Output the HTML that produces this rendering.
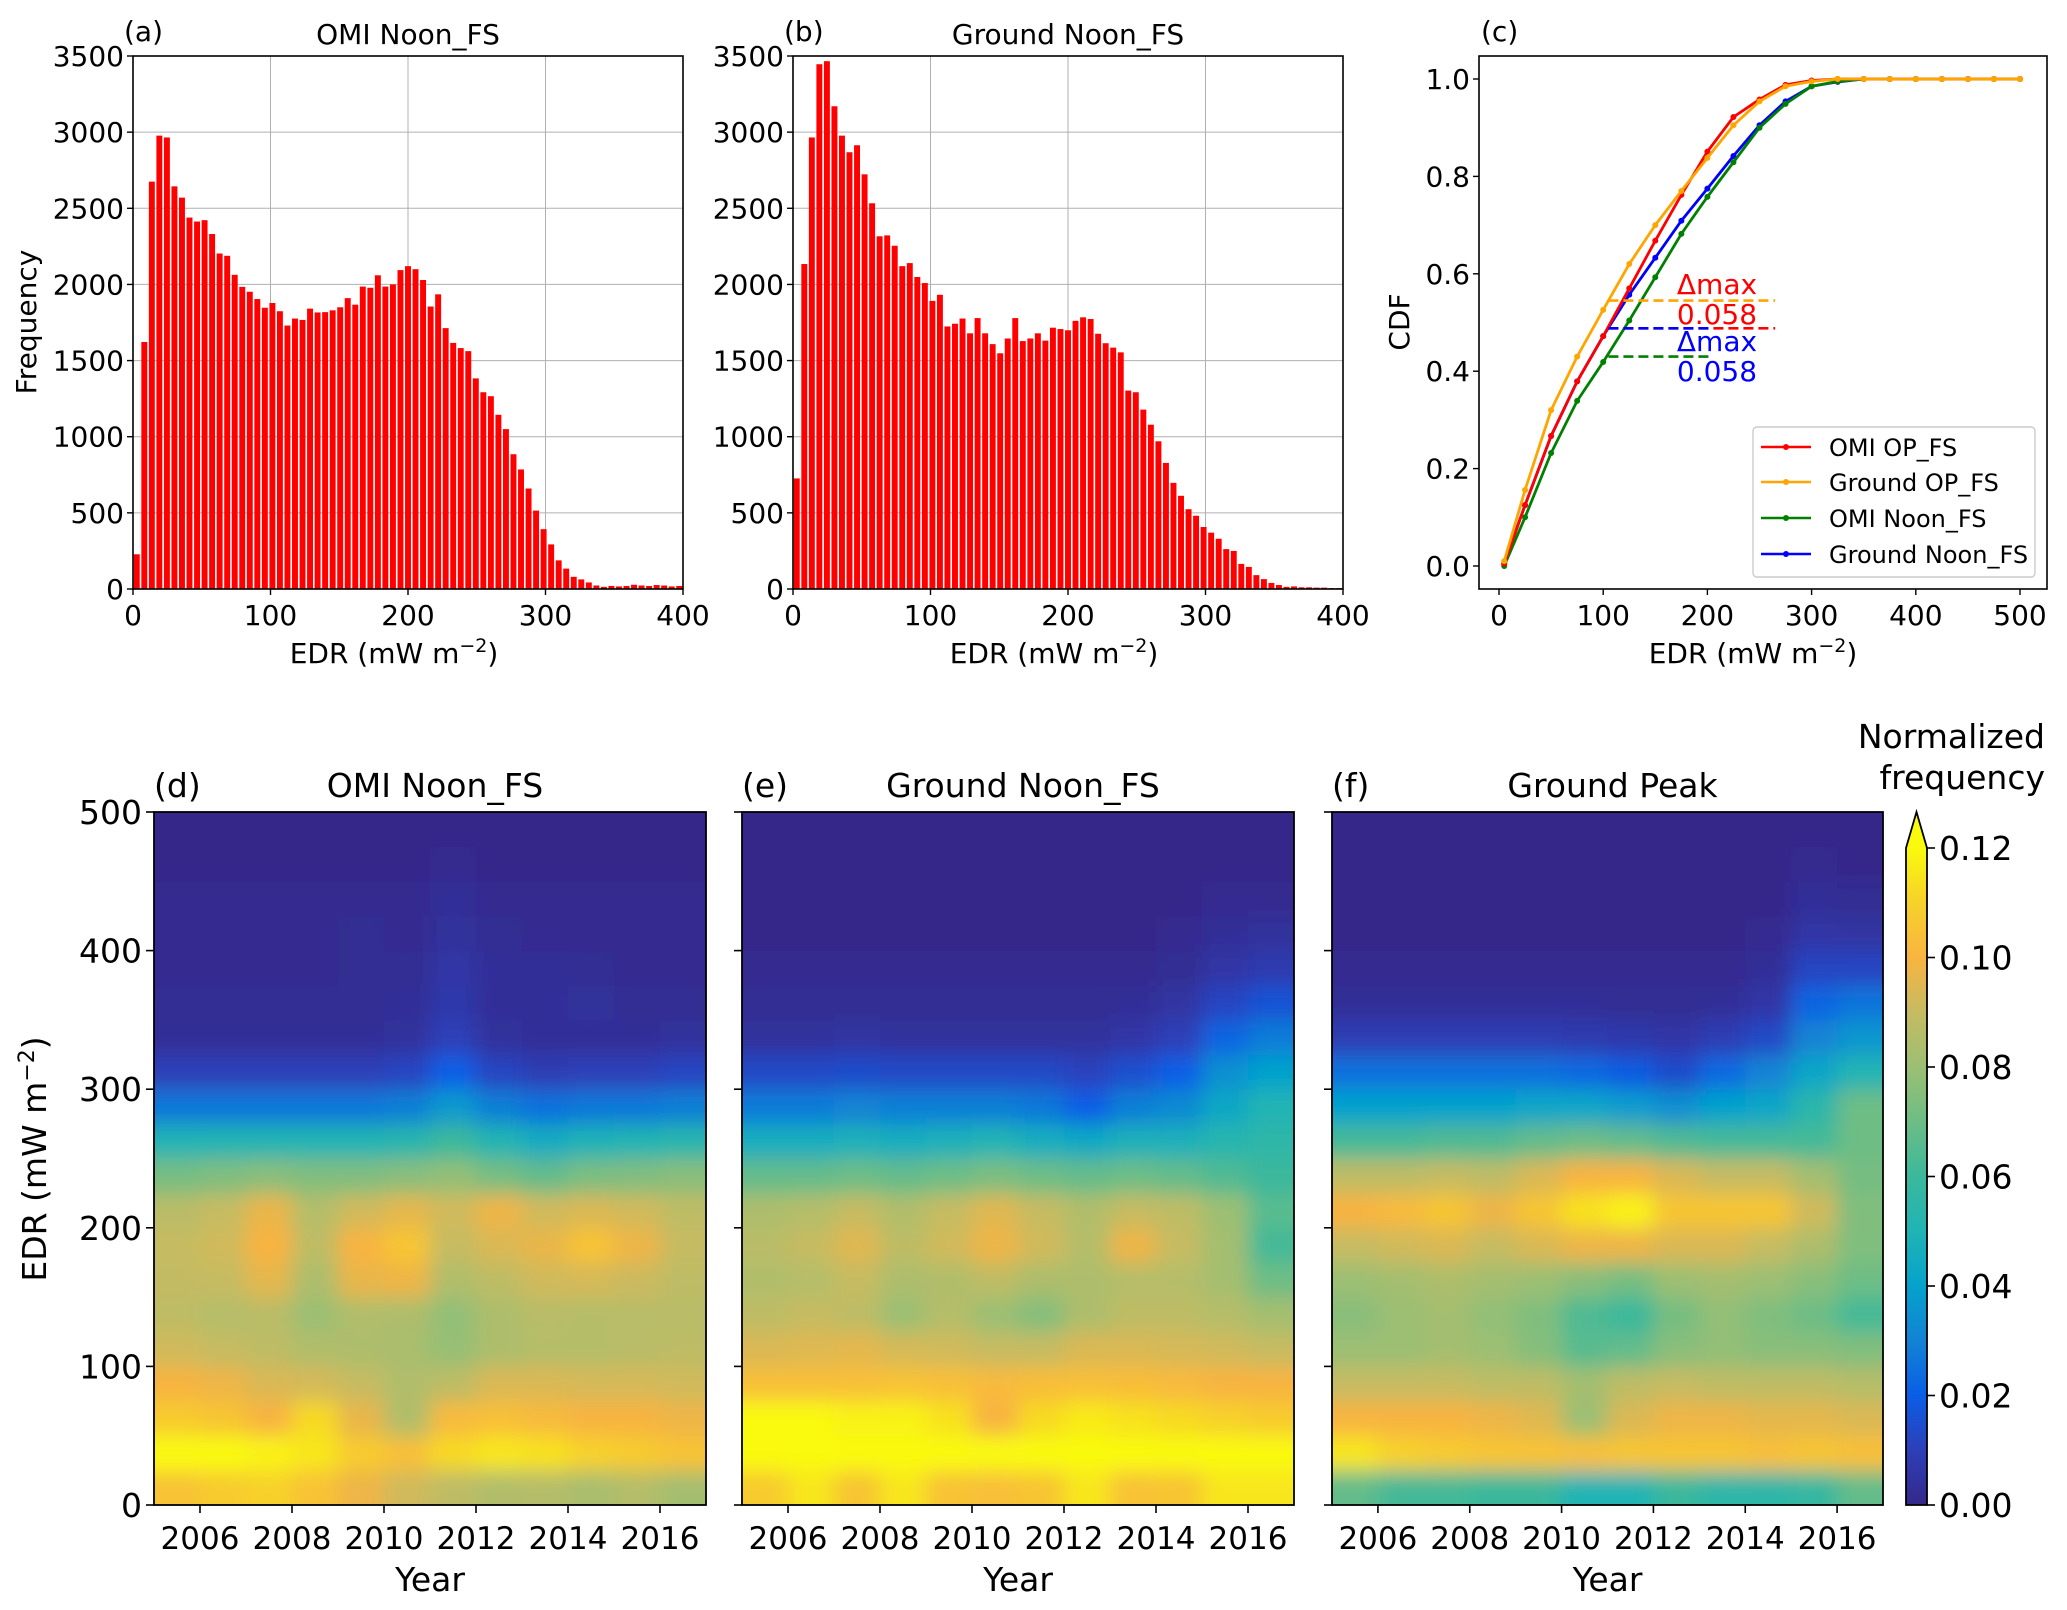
<!DOCTYPE html>
<html><head><meta charset="utf-8">
<style>
html,body{margin:0;padding:0;background:#fff;}
svg{display:block;font-family:"DejaVu Sans","Liberation Sans",sans-serif;}
</style></head>
<body>
<svg id="fig" width="2067" height="1610" viewBox="0 0 2067 1610" xmlns="http://www.w3.org/2000/svg">
<defs>
<filter id="blur" x="-20%" y="-20%" width="140%" height="140%"><feGaussianBlur stdDeviation="10"/></filter>
<clipPath id="clipD"><rect x="154" y="812" width="552" height="693"/></clipPath>
<clipPath id="clipE"><rect x="742" y="812" width="552" height="693"/></clipPath>
<clipPath id="clipF"><rect x="1332" y="812" width="551" height="693"/></clipPath>
<linearGradient id="cbgrad" x1="0" y1="1" x2="0" y2="0">
<stop offset="0" stop-color="#35288a"/><stop offset="0.083" stop-color="#2d3fb8"/>
<stop offset="0.167" stop-color="#0a5ee6"/><stop offset="0.25" stop-color="#1283d4"/>
<stop offset="0.333" stop-color="#05a2cc"/><stop offset="0.417" stop-color="#20b4b4"/>
<stop offset="0.5" stop-color="#3bb89c"/><stop offset="0.583" stop-color="#6dbd85"/>
<stop offset="0.667" stop-color="#9cbf73"/><stop offset="0.75" stop-color="#c6bb62"/>
<stop offset="0.833" stop-color="#f8b440"/><stop offset="0.917" stop-color="#f7d12a"/>
<stop offset="1" stop-color="#f9fa0d"/></linearGradient>
</defs>
</svg>
<script>
// ---------- histogram data ----------
const histA = [228,1622,2675,2977,2965,2644,2570,2439,2413,2422,2331,2203,2188,2063,1984,1952,1904,1847,1878,1824,1730,1776,1767,1841,1816,1818,1830,1850,1910,1867,1986,1978,2060,1986,2000,2094,2120,2100,2029,1855,1935,1713,1616,1582,1562,1383,1292,1266,1144,1050,885,785,660,515,393,293,188,134,80,63,43,23,14,20,17,20,28,23,20,26,23,17,20];
const histB = [726,2134,2965,3446,3466,3170,2977,2868,2914,2723,2533,2316,2322,2254,2120,2140,2049,2009,1892,1932,1724,1742,1776,1679,1779,1679,1608,1548,1645,1779,1628,1645,1679,1631,1716,1707,1699,1761,1784,1773,1676,1614,1585,1554,1303,1292,1178,1079,970,828,697,612,524,481,407,370,330,262,250,165,145,91,65,40,26,14,17,11,11,9,9,6,6];
const histYTicks = [0,500,1000,1500,2000,2500,3000,3500];
const histXTicks = [0,100,200,300,400];
// ---------- CDF data ----------
const cdfX = [5,25,50,75,100,125,150,175,200,225,250,275,300,325,350,375,400,425,450,475,500];
const cdfOmiOP = [0.005,0.125,0.267,0.379,0.472,0.57,0.668,0.762,0.851,0.922,0.958,0.988,0.997,1,1,1,1,1,1,1,1];
const cdfGroundOP = [0.01,0.156,0.32,0.43,0.526,0.62,0.70,0.77,0.838,0.905,0.954,0.985,0.995,1,1,1,1,1,1,1,1];
const cdfOmiNoon = [0.0,0.10,0.232,0.339,0.419,0.504,0.593,0.682,0.758,0.829,0.90,0.949,0.985,0.995,1,1,1,1,1,1,1];
const cdfGroundNoon = [0.005,0.125,0.267,0.379,0.472,0.557,0.633,0.709,0.775,0.842,0.905,0.954,0.985,0.994,1,1,1,1,1,1,1];
const cdfTicksX = [0,100,200,300,400,500];
const cdfTicksY = [0,0.2,0.4,0.6,0.8,1.0];
// ---------- heatmap data: rows = EDR bins of 25 (0-25 first), cols = years 2005..2016 ----------
const years = [2005,2006,2007,2008,2009,2010,2011,2012,2013,2014,2015,2016];
const yearTicks = [2006,2008,2010,2012,2014,2016];
const edrTicks = [0,100,200,300,400,500];
const cbTicks = [0.00,0.02,0.04,0.06,0.08,0.10,0.12];
const heatD = [
[0.105,0.108,0.11,0.105,0.098,0.092,0.088,0.085,0.086,0.083,0.086,0.082],
[0.122,0.122,0.118,0.115,0.108,0.104,0.112,0.115,0.114,0.11,0.108,0.105],
[0.108,0.106,0.10,0.112,0.097,0.085,0.102,0.104,0.102,0.10,0.10,0.098],
[0.10,0.098,0.094,0.093,0.09,0.085,0.088,0.094,0.094,0.093,0.093,0.092],
[0.092,0.09,0.088,0.085,0.084,0.083,0.079,0.084,0.086,0.086,0.087,0.088],
[0.088,0.086,0.087,0.08,0.085,0.084,0.078,0.084,0.087,0.086,0.087,0.087],
[0.089,0.09,0.096,0.084,0.097,0.098,0.085,0.088,0.092,0.093,0.091,0.088],
[0.09,0.092,0.10,0.088,0.10,0.106,0.09,0.094,0.097,0.105,0.098,0.09],
[0.087,0.09,0.097,0.086,0.092,0.096,0.092,0.098,0.092,0.094,0.092,0.088],
[0.072,0.074,0.076,0.074,0.074,0.076,0.078,0.072,0.068,0.073,0.074,0.076],
[0.05,0.051,0.051,0.051,0.051,0.053,0.06,0.051,0.045,0.049,0.051,0.053],
[0.027,0.027,0.027,0.027,0.027,0.029,0.037,0.029,0.025,0.027,0.027,0.029],
[0.01,0.01,0.01,0.01,0.01,0.012,0.02,0.012,0.009,0.01,0.01,0.012],
[0.003,0.003,0.003,0.003,0.003,0.004,0.01,0.004,0.003,0.003,0.003,0.004],
[0.002,0.002,0.002,0.002,0.002,0.003,0.007,0.003,0.003,0.004,0.002,0.002],
[0.001,0.001,0.001,0.001,0.002,0.002,0.006,0.003,0.003,0.002,0.001,0.001],
[0.001,0.001,0.001,0.001,0.002,0.001,0.004,0.002,0.001,0.001,0.001,0.001],
[0.001,0.001,0.001,0.001,0.001,0.001,0.003,0.001,0.001,0.001,0.001,0.001],
[0,0,0,0,0,0,0.001,0,0,0,0,0],
[0,0,0,0,0,0,0,0,0,0,0,0]];
const heatE = [
[0.108,0.115,0.106,0.115,0.105,0.104,0.106,0.115,0.105,0.106,0.115,0.115],
[0.126,0.126,0.126,0.126,0.124,0.122,0.124,0.126,0.126,0.125,0.124,0.124],
[0.12,0.12,0.118,0.118,0.114,0.10,0.112,0.116,0.114,0.112,0.11,0.108],
[0.104,0.104,0.104,0.105,0.104,0.102,0.103,0.104,0.103,0.102,0.10,0.10],
[0.094,0.095,0.096,0.093,0.092,0.09,0.09,0.094,0.094,0.093,0.092,0.09],
[0.088,0.09,0.088,0.08,0.086,0.08,0.075,0.084,0.088,0.088,0.086,0.082],
[0.085,0.086,0.09,0.084,0.085,0.088,0.084,0.084,0.086,0.086,0.082,0.07],
[0.087,0.09,0.095,0.088,0.092,0.098,0.092,0.086,0.098,0.09,0.082,0.062],
[0.084,0.086,0.09,0.085,0.09,0.095,0.09,0.085,0.09,0.088,0.08,0.066],
[0.068,0.068,0.07,0.068,0.07,0.073,0.07,0.068,0.07,0.068,0.064,0.06],
[0.046,0.046,0.048,0.046,0.048,0.05,0.046,0.044,0.048,0.048,0.052,0.055],
[0.028,0.028,0.03,0.029,0.029,0.029,0.027,0.02,0.029,0.032,0.043,0.05],
[0.013,0.013,0.014,0.013,0.013,0.013,0.013,0.011,0.015,0.02,0.034,0.04],
[0.004,0.004,0.005,0.004,0.004,0.004,0.004,0.004,0.006,0.01,0.022,0.028],
[0.002,0.002,0.002,0.002,0.002,0.002,0.002,0.002,0.003,0.005,0.012,0.016],
[0.001,0.001,0.001,0.001,0.001,0.001,0.001,0.001,0.001,0.002,0.006,0.008],
[0,0,0,0,0,0,0,0,0,0.001,0.003,0.004],
[0,0,0,0,0,0,0,0,0,0,0.001,0.001],
[0,0,0,0,0,0,0,0,0,0,0,0],
[0,0,0,0,0,0,0,0,0,0,0,0]];
const heatF = [
[0.068,0.062,0.062,0.06,0.06,0.05,0.05,0.06,0.055,0.055,0.058,0.068],
[0.115,0.11,0.108,0.106,0.105,0.104,0.106,0.106,0.106,0.104,0.106,0.104],
[0.10,0.10,0.10,0.098,0.095,0.08,0.094,0.098,0.098,0.096,0.096,0.094],
[0.09,0.09,0.09,0.088,0.088,0.082,0.088,0.09,0.088,0.088,0.088,0.086],
[0.08,0.08,0.082,0.08,0.075,0.066,0.068,0.076,0.078,0.076,0.076,0.074],
[0.076,0.08,0.082,0.078,0.074,0.064,0.06,0.072,0.078,0.074,0.07,0.062],
[0.08,0.082,0.084,0.082,0.08,0.076,0.072,0.08,0.082,0.08,0.076,0.07],
[0.09,0.092,0.094,0.09,0.094,0.098,0.098,0.094,0.094,0.09,0.084,0.074],
[0.1,0.102,0.106,0.098,0.106,0.114,0.118,0.106,0.106,0.106,0.092,0.074],
[0.088,0.088,0.09,0.088,0.094,0.1,0.1,0.094,0.09,0.09,0.082,0.072],
[0.062,0.062,0.064,0.064,0.068,0.07,0.068,0.064,0.062,0.062,0.062,0.07],
[0.04,0.04,0.04,0.04,0.042,0.042,0.038,0.034,0.04,0.042,0.054,0.07],
[0.025,0.025,0.025,0.025,0.025,0.023,0.019,0.014,0.023,0.03,0.042,0.05],
[0.009,0.009,0.009,0.009,0.009,0.008,0.007,0.006,0.009,0.013,0.03,0.036],
[0.003,0.003,0.003,0.003,0.003,0.003,0.002,0.002,0.003,0.006,0.022,0.026],
[0.001,0.001,0.001,0.001,0.001,0.001,0.001,0.001,0.001,0.003,0.012,0.012],
[0,0,0,0,0,0,0,0,0,0.001,0.006,0.005],
[0,0,0,0,0,0,0,0,0,0,0.003,0.002],
[0,0,0,0,0,0,0,0,0,0,0.001,0],
[0,0,0,0,0,0,0,0,0,0,0,0]];

const NS = "http://www.w3.org/2000/svg";
const svg = document.getElementById('fig');
const FS = 28;
function mk(tag, attrs, parent){
  const e = document.createElementNS(NS, tag);
  for (const k in attrs) e.setAttribute(k, attrs[k]);
  (parent||svg).appendChild(e);
  return e;
}
function txt(s, x, y, size, anchor, parent, fill){
  const t = mk('text', {x:x, y:y, 'font-size':size, 'text-anchor':anchor||'middle', fill:fill||'#000'}, parent);
  t.textContent = s;
  return t;
}

// ---------- histograms ----------
function histogram(data, L, R, T, B, label, title, name){
  const g = mk('g', {});
  
  
  const xs = v => L + (v/400)*(R-L);
  const ys = v => B - (v/3500)*(B-T);
  histXTicks.slice(1,-1).forEach(v => mk('line',{x1:xs(v),x2:xs(v),y1:T,y2:B,stroke:'#b0b0b0','stroke-width':1},g));
  histYTicks.slice(1,-1).forEach(v => mk('line',{x1:L,x2:R,y1:ys(v),y2:ys(v),stroke:'#b0b0b0','stroke-width':1},g));
  const bw = 400/data.length;
  data.forEach((v,i) => {
    const r = mk('rect',{x:xs(i*bw)+0.8, y:ys(v), width:(xs(bw)-xs(0))-1.6, height:B-ys(v), fill:'#ff0000'}, g);
    
    
  });
  mk('rect',{x:L,y:T,width:R-L,height:B-T,fill:'none',stroke:'#000','stroke-width':1.6},g);
  histXTicks.forEach(v => { mk('line',{x1:xs(v),x2:xs(v),y1:B,y2:B+6,stroke:'#000','stroke-width':1.4},g); txt(String(v), xs(v), B+36, FS, 'middle', g); });
  histYTicks.forEach(v => { mk('line',{x1:L-6,x2:L,y1:ys(v),y2:ys(v),stroke:'#000','stroke-width':1.4},g); txt(String(v), L-9, ys(v)+10, FS, 'end', g); });
  const xl = txt('', (L+R)/2 - 14, B+74, FS, 'middle', g);
  xl.innerHTML = 'EDR (mW m<tspan dy="-11" font-size="19">−2</tspan><tspan dy="11">)</tspan>';
  txt(label, L-9, 41, FS, 'start', g);
  txt(title, (L+R)/2, 44, FS, 'middle', g);
}
histogram(histA, 133, 683, 56, 589, '(a)', 'OMI Noon_FS', 'histogram-omi-noon');
histogram(histB, 793, 1343, 56, 589, '(b)', 'Ground Noon_FS', 'histogram-ground-noon');
(function(){ const t = txt('Frequency', 0, 0, FS, 'middle'); t.setAttribute('transform','translate(36,322) rotate(-90)');   })();

// ---------- CDF ----------
(function(){
  const L=1479,R=2047,T=56,B=589;
  const xs = v => 1499 + v*(2020-1499)/500;
  const ys = v => 566 - v*(566-79);
  const g = mk('g',{});
  
  
  const series = [[cdfGroundNoon,'#0000ff','ground-noon'],[cdfOmiNoon,'#008000','omi-noon'],[cdfOmiOP,'#ff0000','omi-op'],[cdfGroundOP,'#ffa500','ground-op']];
  series.forEach(([d,c,n]) => {
    const pts = d.map((v,i)=>xs(cdfX[i])+','+ys(v)).join(' ');
    const pl = mk('polyline',{points:pts,fill:'none',stroke:c,'stroke-width':2.8},g);
    
    
    d.forEach((v,i)=>mk('circle',{cx:xs(cdfX[i]),cy:ys(v),r:3,fill:c},g));
  });
  const dash = [[0.545,105,265,'#ffa500'],[0.488,105,265,'#ff0000'],[0.488,105,205,'#0000ff'],[0.43,105,205,'#008000']];
  dash.forEach(([y,a,b,c]) => { const l = mk('line',{x1:xs(a),x2:xs(b),y1:ys(y),y2:ys(y),stroke:c,'stroke-width':2.6,'stroke-dasharray':'10,5'},g);   });
  txt('Δmax', 1717, 294, 28, 'middle', g, '#ff0000');
  txt('0.058', 1717, 324, 28, 'middle', g, '#ff0000');
  txt('Δmax', 1717, 351, 28, 'middle', g, '#0000ff');
  txt('0.058', 1717, 381, 28, 'middle', g, '#0000ff');
  mk('rect',{x:L,y:T,width:R-L,height:B-T,fill:'none',stroke:'#000','stroke-width':1.6},g);
  cdfTicksX.forEach(v => { mk('line',{x1:xs(v),x2:xs(v),y1:B,y2:B+6,stroke:'#000','stroke-width':1.4},g); txt(String(v), xs(v), B+36, FS, 'middle', g); });
  cdfTicksY.forEach(v => { mk('line',{x1:L-6,x2:L,y1:ys(v),y2:ys(v),stroke:'#000','stroke-width':1.4},g); txt(v.toFixed(1), L-9, ys(v)+10, FS, 'end', g); });
  const xl = txt('', (L+R)/2 - 10, B+74, FS, 'middle', g);
  xl.innerHTML = 'EDR (mW m<tspan dy="-11" font-size="19">−2</tspan><tspan dy="11">)</tspan>';
  const yl = txt('CDF', 0, 0, FS, 'middle', g); yl.setAttribute('transform','translate(1409,322) rotate(-90)');
  txt('(c)', 1481, 41, FS, 'start', g);
  const lg = mk('g',{},g);
  
  
  mk('rect',{x:1753,y:427,width:282,height:150,rx:4,fill:'#fff',stroke:'#ccc','stroke-width':1.4},lg);
  const ent = [['OMI OP_FS','#ff0000',447],['Ground OP_FS','#ffa500',482],['OMI Noon_FS','#008000',518],['Ground Noon_FS','#0000ff',554]];
  ent.forEach(([s,c,y]) => {
    const e = mk('g',{},lg);
    
    
    mk('line',{x1:1761,x2:1811,y1:y,y2:y,stroke:c,'stroke-width':2.6},e);
    mk('circle',{cx:1786,cy:y,r:3,fill:c},e);
    txt(s, 1829, y+9, 24, 'start', e);
  });
})();

// ---------- colormap ----------
const cmapStops = ['#35288a','#2d3fb8','#0a5ee6','#1283d4','#05a2cc','#20b4b4','#3bb89c','#6dbd85','#9cbf73','#c6bb62','#f8b440','#f7d12a','#f9fa0d'];
function hex(h){return [parseInt(h.substr(1,2),16),parseInt(h.substr(3,2),16),parseInt(h.substr(5,2),16)];}
function cmap(v){
  let t = Math.max(0, Math.min(1, v/0.12)) * (cmapStops.length-1);
  const i = Math.min(cmapStops.length-2, Math.floor(t)); const f = t - i;
  const a = hex(cmapStops[i]), b = hex(cmapStops[i+1]);
  return 'rgb('+a.map((x,k)=>Math.round(x+(b[k]-x)*f)).join(',')+')';
}

// ---------- heatmaps ----------
function heatmap(data, L, R, label, title, clip, name){
  const T=812, B=1505;
  const xs = yr => L + (yr-2005)/12*(R-L);
  const ys = e => B - e/500*(B-T);
  const g = mk('g',{});
  
  
  const cg = mk('g',{'clip-path':'url(#'+clip+')'},g);
  const bg = mk('g',{filter:'url(#blur)'},cg);
  const nR = data.length, nC = years.length;
  data.forEach((row,r) => row.forEach((v,c) => {
    let x0 = xs(years[c]), x1 = xs(years[c]+1), y0 = ys((r+1)*25), y1 = ys(r*25);
    if (c===0) x0 -= 60; if (c===nC-1) x1 += 60;
    if (r===0) y1 += 60; if (r===nR-1) y0 -= 60;
    const cell = mk('rect',{x:x0,y:y0,width:x1-x0+0.5,height:y1-y0+0.5,fill:cmap(v)},bg);
    
    
  }));
  mk('rect',{x:L,y:T,width:R-L,height:B-T,fill:'none',stroke:'#000','stroke-width':1.8},g);
  yearTicks.forEach(y => { mk('line',{x1:xs(y),x2:xs(y),y1:B,y2:B+8,stroke:'#000','stroke-width':1.6},g); txt(String(y), xs(y), B+44, 31, 'middle', g); });
  edrTicks.forEach(e => { mk('line',{x1:L-8,x2:L,y1:ys(e),y2:ys(e),stroke:'#000','stroke-width':1.6},g); if (label==='(d)') txt(String(e), L-12, ys(e)+12, 33, 'end', g); });
  txt('Year', (L+R)/2, B+86, 33, 'middle', g);
  txt(label, L, 797, 33, 'start', g);
  txt(title, (L+R)/2 + 5, 797, 33, 'middle', g);
}
heatmap(heatD, 154, 706, '(d)', 'OMI Noon_FS', 'clipD', 'heatmap-omi-noon');
heatmap(heatE, 742, 1294, '(e)', 'Ground Noon_FS', 'clipE', 'heatmap-ground-noon');
heatmap(heatF, 1332, 1883, '(f)', 'Ground Peak', 'clipF', 'heatmap-ground-peak');
(function(){ const t = txt('', 0, 0, 33, 'middle'); t.innerHTML = 'EDR (mW m<tspan dy="-12" font-size="22">−2</tspan><tspan dy="12">)</tspan>'; t.setAttribute('transform','translate(46,1159) rotate(-90)');   })();

// ---------- colorbar ----------
(function(){
  const g = mk('g',{});
  
  
  const L=1906,R=1927,T=848,B=1505;
  mk('rect',{x:L,y:T,width:R-L,height:B-T,fill:'url(#cbgrad)'},g);
  mk('path',{d:'M'+L+','+T+' L'+((L+R)/2)+',812 L'+R+','+T+' Z',fill:'#f9fa0d'},g);
  mk('path',{d:'M'+L+','+B+' L'+L+','+T+' L'+((L+R)/2)+',812 L'+R+','+T+' L'+R+','+B+' Z',fill:'none',stroke:'#000','stroke-width':1.8},g);
  const ys = v => B - v/0.12*(B-T);
  cbTicks.forEach(v => { mk('line',{x1:R,x2:R+8,y1:ys(v),y2:ys(v),stroke:'#000','stroke-width':1.6},g); txt(v.toFixed(2), R+12, ys(v)+12, 33, 'start', g); });
  txt('Normalized', 2045, 748, 33, 'end', g);
  txt('frequency', 2045, 789, 33, 'end', g);
})();
</script>
</body></html>
